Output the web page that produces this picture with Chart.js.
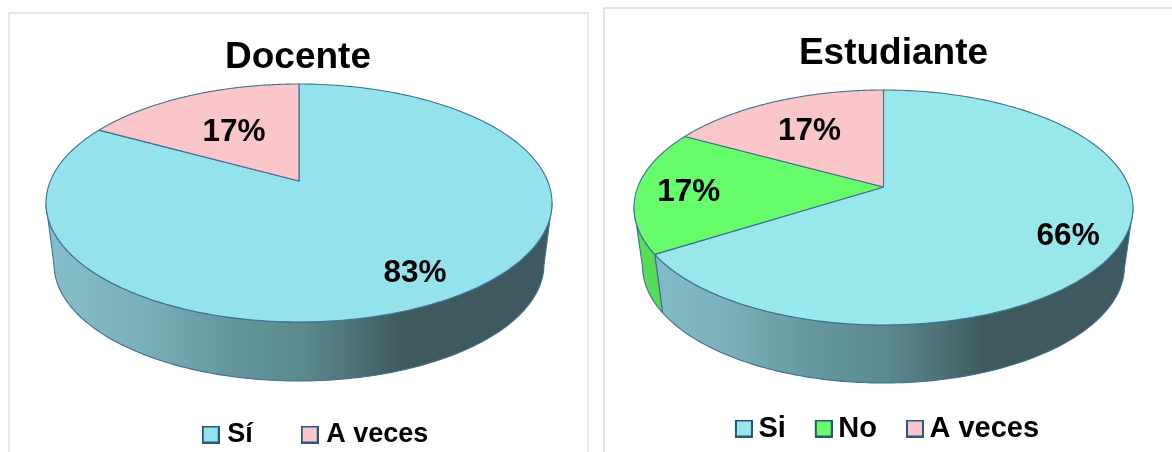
<!DOCTYPE html>
<html><head><meta charset="utf-8">
<script src="https://cdn.jsdelivr.net/npm/chart.js@4/dist/chart.umd.min.js"></script>
<style>
html,body{margin:0;padding:0;background:#fff;width:1172px;height:452px;overflow:hidden}
.panel{position:absolute;box-sizing:border-box;border-style:solid;border-width:2px 2px 0 2px}
canvas{position:absolute}
</style></head><body>
<div class="panel" style="left:8px;top:12px;width:581px;height:440px;border-color:#deebf7"></div>
<div class="panel" style="left:603px;top:7px;width:575px;height:445px;border-color:#dfe5ec"></div>
<canvas id="c1" width="580" height="440" style="left:8px;top:12px"></canvas>
<canvas id="c2" width="569" height="444" style="left:603px;top:8px"></canvas>
<script>
const docenteLabels = ["Sí", "A veces"];
const docenteValues = [83, 17];
const docenteColors = ["#93e2ec", "#fbc6c9"];
const docenteWalls = ["#93e2ec", "#fbc6c9"];
const estudianteLabels = ["Si", "No", "A veces"];
const estudianteValues = [66, 17, 17];
const estudianteColors = ["#97e7eb", "#66fc6a", "#fbc6c9"];
const estudianteWalls = ["#97e7eb", "#55dd58", "#fbc6c9"];

const FONT = '"Liberation Sans", Arial, sans-serif';
const EDGE = "#3f7097";

function legendSwatch(fill, pad) {
  const s = document.createElement("canvas");
  s.width = 18 + pad; s.height = 18;
  const c = s.getContext("2d");
  c.fillStyle = fill; c.fillRect(pad + 1, 1, 16, 16);
  c.strokeStyle = "#28587f"; c.lineWidth = 2; c.strokeRect(pad + 1, 1, 16, 16);
  return s;
}

const pie3d = {
  id: "pie3d",
  beforeDatasetDraw(chart, args, o) {
    const ctx = chart.ctx, arcs = chart.getDatasetMeta(0).data;
    const k = Math.sqrt(1 - o.a * o.a);
    const proj = (ang, f) => {
      const t = ang + Math.PI / 2, u = Math.sin(t) * f, v = Math.cos(t) * f, d = 1 + o.a * v;
      return [u * k / d, (v + o.a) / d];
    };
    const topPt = p => [o.cx + p[0] * o.rx, o.cy - p[1] * o.ry];
    const botPt = p => [o.cx + p[0] * o.brx, o.bcy - p[1] * o.bry];
    const grad = ctx.createLinearGradient(o.cx - o.rx, 0, o.cx + o.rx, 0);
    o.wallStops.forEach(s => grad.addColorStop(s[0], s[1]));
    ctx.save();
    ctx.lineJoin = "round";
    arcs.forEach((a, i) => {
      const pts = [];
      const n = 240;
      for (let j = 0; j <= n; j++) {
        const p = proj(a.startAngle + (a.endAngle - a.startAngle) * j / n, 1);
        if (p[1] <= 0.0) pts.push(p);
      }
      if (!pts.length) return;
      ctx.beginPath();
      pts.forEach((p, j) => { const q = topPt(p); j ? ctx.lineTo(q[0], q[1]) : ctx.moveTo(q[0], q[1]); });
      pts.slice().reverse().forEach(p => { const q = botPt(p); ctx.lineTo(q[0], q[1]); });
      ctx.closePath();
      ctx.fillStyle = i === 0 ? grad : o.walls[i];
      ctx.fill();
      ctx.strokeStyle = EDGE; ctx.lineWidth = 1.1; ctx.stroke();
    });
    arcs.forEach(a => {
      const n = 240, c = topPt(proj(0, 0));
      ctx.beginPath();
      ctx.moveTo(c[0], c[1]);
      for (let j = 0; j <= n; j++) {
        const q = topPt(proj(a.startAngle + (a.endAngle - a.startAngle) * j / n, 1));
        ctx.lineTo(q[0], q[1]);
      }
      ctx.closePath();
      ctx.fillStyle = a.options.backgroundColor;
      ctx.fill();
      ctx.strokeStyle = EDGE; ctx.lineWidth = 1.1; ctx.stroke();
    });
    ctx.fillStyle = "#000";
    ctx.font = "bold 31.5px " + FONT;
    ctx.textAlign = "center"; ctx.textBaseline = "middle";
    const vals = chart.data.datasets[0].data;
    arcs.forEach((a, i) => {
      const q = topPt(proj((a.startAngle + a.endAngle) / 2, o.labelAt[i]));
      ctx.fillText(vals[i] + "%", q[0], q[1] + 2);
    });
    ctx.restore();
    return false;
  },
  afterLayout(chart, args, o) {
    const l = chart.legend, t = chart.titleBlock;
    l.left += o.legendShift; l.right += o.legendShift;
    const h = l.bottom - l.top; l.top = o.legendTop; l.bottom = l.top + h;
    t.left += o.titleShift; t.right += o.titleShift;
  }
};

function makePie(id, title, labels, values, colors, walls, geo, legendFont, legendGap) {
  new Chart(document.getElementById(id), {
    type: "pie",
    data: { labels, datasets: [{ data: values, backgroundColor: colors }] },
    plugins: [pie3d],
    options: {
      responsive: false, animation: false,
      plugins: {
        tooltip: { enabled: false },
        title: { display: true, text: title, color: "#000", padding: { top: geo.titleTop, bottom: 10 },
                 font: { family: FONT, size: 37, weight: "bold" } },
        legend: {
          position: "bottom",
          labels: {
            color: "#000", padding: legendGap, boxWidth: legendFont - 2, boxHeight: 18,
            usePointStyle: true, pointStyleWidth: 6,
            font: { family: FONT, size: legendFont, weight: "bold" },
            generateLabels: c => c.data.labels.map((t, i) => ({
              text: t, pointStyle: legendSwatch(colors[i], geo.swatchPad), fontColor: "#000", datasetIndex: 0, index: i
            }))
          }
        },
        pie3d: Object.assign({ walls, wallStops: [
          [0, "#84c0ca"], [0.2, "#79afb8"], [0.36, "#65979e"], [0.5, "#5b8b90"], [0.62, "#4c7075"], [0.7, "#3e5a5f"], [1, "#3e5a60"]
        ] }, geo)
      }
    }
  });
}

makePie("c1", "Docente", docenteLabels, docenteValues, docenteColors, docenteWalls,
  { cx: 291, cy: 191, rx: 253, ry: 119, a: 0.185, brx: 245, bcy: 252, bry: 117,
    labelAt: [0.8, 0.56], titleTop: 24, legendShift: 20, titleShift: 0, legendTop: 355, swatchPad: 0 }, 27, 54);
makePie("c2", "Estudiante", estudianteLabels, estudianteValues, estudianteColors, estudianteWalls,
  { cx: 280.5, cy: 199.5, rx: 249.5, ry: 117.5, a: 0.174, brx: 241, bcy: 258, bry: 117,
    labelAt: [0.8, 0.79, 0.65], titleTop: 24, legendShift: 1, titleShift: 6, legendTop: 374, swatchPad: 6 }, 29, 32);
</script>
</body></html>
